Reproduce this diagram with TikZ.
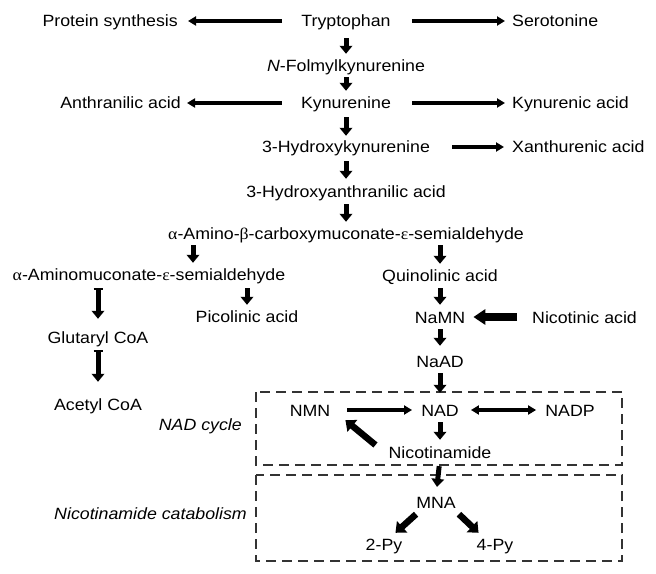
\documentclass[tikz,border=0pt]{standalone}
\usepackage{fontspec}
\setmainfont{Liberation Sans}[FakeStretch=1.09]
\newfontfamily\grk{Liberation Serif}[FakeStretch=1.09]
\usetikzlibrary{arrows.meta,calc}
\begin{document}
\begin{tikzpicture}[x=1bp,y=-1bp,
  lbl/.style={inner sep=0pt, text height=12bp, text depth=0pt, anchor=base,
              font=\fontsize{16.3bp}{19bp}\selectfont},
  varr/.style={line width=5bp, -{Triangle[width=12.5bp,length=8bp]}, shorten <=7bp, shorten >=6bp},
  varrbar/.style={line width=5bp, {Bar[width=9bp,line width=1.6bp]}-{Triangle[width=12.5bp,length=8bp]}},
  harr/.style={line width=4bp, -{Triangle[width=9bp,length=8bp]}},
  dharr/.style={line width=4bp, {Triangle[width=9bp,length=8bp]}-{Triangle[width=9bp,length=8bp]}},
  barr/.style={line width=8bp, -{Triangle[width=15bp,length=12bp]}},
  darr/.style={line width=6.5bp, -{Triangle[width=15bp,length=9bp]}},
  dbox/.style={draw=black!80, line width=1.4bp, dash pattern=on 10bp off 6bp}]
\fill[white] (0,0) rectangle (656,574);
\useasboundingbox (0,0) rectangle (656,574);

% dashed boxes
\draw[dbox] (256,392) rectangle (622,465);
\draw[dbox] (256,475) rectangle (622,561);

% nodes
\node[lbl, anchor=base east] (prot) at (178,27) {Protein synthesis};
\node[lbl] (tryp) at (346,27) {Tryptophan};
\node[lbl, anchor=base west] (sero) at (512,27) {Serotonine};
\node[lbl] (nfk) at (346,72) {\textit{N}-Folmylkynurenine};
\node[lbl, anchor=base east] (anth) at (181,109) {Anthranilic acid};
\node[lbl] (kyn) at (346,109) {Kynurenine};
\node[lbl, anchor=base west] (kyna) at (512,109) {Kynurenic acid};
\node[lbl] (hk) at (346,153) {3-Hydroxykynurenine};
\node[lbl, anchor=base west] (xan) at (512,153) {Xanthurenic acid};
\node[lbl] (haa) at (346,197) {3-Hydroxyanthranilic acid};
\node[lbl] (acms) at (346,239) {{\grk α}-Amino-{\grk β}-carboxymuconate-{\grk ε}-semialdehyde};
\node[lbl] (amsa) at (149,280) {{\grk α}-Aminomuconate-{\grk ε}-semialdehyde};
\node[lbl] (quin) at (440,281) {Quinolinic acid};
\node[lbl] (pic) at (247,322) {Picolinic acid};
\node[lbl] (namn) at (440,323) {NaMN};
\node[lbl, anchor=base west] (nic) at (532,323) {Nicotinic acid};
\node[lbl] (glut) at (98,343) {Glutaryl CoA};
\node[lbl] (naad) at (440,367) {NaAD};
\node[lbl] (acet) at (98,410) {Acetyl CoA};
\node[lbl] (nmn) at (310,416) {NMN};
\node[lbl] (nad) at (440,416) {NAD};
\node[lbl] (nadp) at (570,416) {NADP};
\node[lbl, anchor=base east] (cyc) at (242,430) {\textit{NAD cycle}};
\node[lbl] (nicam) at (440,458) {Nicotinamide};
\node[lbl] (mna) at (436,508) {MNA};
\node[lbl, anchor=base east] (cat) at (247,519) {\textit{Nicotinamide catabolism}};
\node[lbl] (py2) at (384,550) {2-Py};
\node[lbl] (py4) at (495,550) {4-Py};
\coordinate (c193) at (193,0);

% horizontal arrows
\draw[harr, shorten <=19bp, shorten >=10bp] (tryp.west) -- (prot.east);
\draw[harr, shorten <=21bp, shorten >=7bp] (tryp.east) -- (sero.west);
\draw[harr, shorten <=19bp, shorten >=6bp] (kyn.west) -- (anth.east);
\draw[harr, shorten <=21bp, shorten >=7bp] (kyn.east) -- (kyna.west);
\draw[harr, shorten <=22bp, shorten >=8bp] (hk.east) -- (xan.west);
\draw[barr, shorten <=15bp, shorten >=8bp] (nic.west) -- (namn.east);
\draw[harr, shorten <=17bp, shorten >=9bp] (nmn.east) -- (nad.west);
\draw[dharr, shorten <=12bp, shorten >=9bp] (nad.east) -- (nadp.west);

% vertical arrows
\draw[varr, shorten <=11bp] (tryp.south) -- (nfk.north);
\draw[varr, shorten <=5bp] (nfk.south) -- (kyn.north);
\draw[varr, shorten <=8bp, shorten >=5bp] (kyn.south) -- (hk.north);
\draw[varr, shorten <=8bp] (hk.south) -- (haa.north);
\draw[varr, shorten >=5bp] (haa.south) -- (acms.north);
\draw[varr, shorten <=6bp, shorten >=5bp] (acms.south -| c193) -- (amsa.north -| c193);
\draw[varr, shorten <=6bp, shorten >=5bp] (acms.south -| quin.north) -- (quin.north);
\draw[varrbar, shorten <=8bp, shorten >=12bp] (amsa.south -| glut.north) -- (glut.north);
\draw[varr, shorten <=8bp, shorten >=5bp] (amsa.south -| pic.north) -- (pic.north);
\draw[varr, shorten <=7bp, shorten >=6bp] (quin.south) -- (namn.north);
\draw[varrbar, shorten <=7bp, shorten >=16bp] (glut.south) -- (acet.north);
\draw[varr, shorten <=6bp, shorten >=9bp] (namn.south) -- (naad.north);
\draw[varr, shorten <=6bp, shorten >=11bp] (naad.south) -- (nad.north);
\draw[varr, shorten <=6bp, shorten >=6bp] (nad.south) -- (nicam.north);
\draw[varr, shorten <=8bp, shorten >=9bp] (nicam.south) -- (mna.north);

% diagonal arrows
\draw[darr] ($(nicam.west)+(-13,-7)$) -- ($(nmn.south east)+(15,4)$);
\draw[darr] ($(mna.south west)+(0,6)$) -- ($(py2.north east)+(-7,-5)$);
\draw[darr] ($(mna.south east)+(3,6)$) -- ($(py4.north west)+(2,-5)$);
\end{tikzpicture}
\end{document}
